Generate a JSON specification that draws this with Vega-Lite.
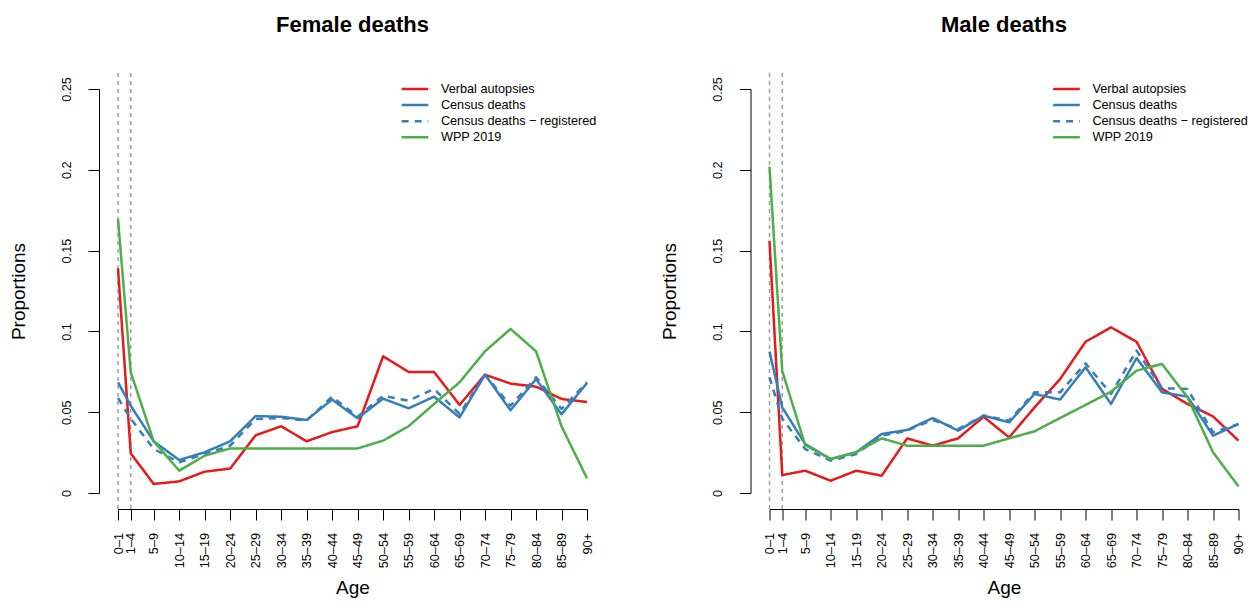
{
  "$schema": "https://vega.github.io/schema/vega-lite/v6.json",
  "padding": {"left": 9, "top": 14, "right": 0, "bottom": 0},
  "background": "white",
  "config": {
    "font": "Liberation Sans",
    "view": {"stroke": null},
    "title": {"fontSize": 22, "fontWeight": "bold", "color": "black", "anchor": "middle", "frame": "group", "baseline": "alphabetic", "offset": 34.2},
    "axis": {"grid": false, "domainColor": "black", "tickColor": "black", "labelColor": "black", "titleColor": "black", "labelFontSize": 12.7, "titleFontSize": 19, "titleFontWeight": "normal", "tickSize": 11, "domainWidth": 1, "tickWidth": 1, "labelOverlap": false, "labelFlush": false},
    "legend": {"orient": "none", "legendX": 289, "legendY": -8.1, "padding": 0, "symbolType": "M-2,0H2", "symbolSize": 178, "symbolStrokeWidth": 2.5, "labelFontSize": 12.7, "labelColor": "black", "labelOffset": 17.9, "rowPadding": 1.15, "labelLimit": 300}
  },
  "datasets": {
    "deaths": [
      {"sex":"Female","mid":0.5,"Verbal autopsies":0.139,"Census deaths":0.0685,"Census deaths − registered":0.0588,"WPP 2019":0.1696},
      {"sex":"Female","mid":3,"Verbal autopsies":0.0245,"Census deaths":0.054,"Census deaths − registered":0.046,"WPP 2019":0.0747},
      {"sex":"Female","mid":7.5,"Verbal autopsies":0.0056,"Census deaths":0.032,"Census deaths − registered":0.0272,"WPP 2019":0.032},
      {"sex":"Female","mid":12.5,"Verbal autopsies":0.0072,"Census deaths":0.0204,"Census deaths − registered":0.019,"WPP 2019":0.0138},
      {"sex":"Female","mid":17.5,"Verbal autopsies":0.0132,"Census deaths":0.0252,"Census deaths − registered":0.0241,"WPP 2019":0.0231},
      {"sex":"Female","mid":22.5,"Verbal autopsies":0.0151,"Census deaths":0.032,"Census deaths − registered":0.0293,"WPP 2019":0.0276},
      {"sex":"Female","mid":27.5,"Verbal autopsies":0.0357,"Census deaths":0.0476,"Census deaths − registered":0.0458,"WPP 2019":0.0276},
      {"sex":"Female","mid":32.5,"Verbal autopsies":0.0413,"Census deaths":0.0472,"Census deaths − registered":0.0464,"WPP 2019":0.0276},
      {"sex":"Female","mid":37.5,"Verbal autopsies":0.032,"Census deaths":0.0452,"Census deaths − registered":0.0448,"WPP 2019":0.0276},
      {"sex":"Female","mid":42.5,"Verbal autopsies":0.0377,"Census deaths":0.0578,"Census deaths − registered":0.0596,"WPP 2019":0.0276},
      {"sex":"Female","mid":47.5,"Verbal autopsies":0.0413,"Census deaths":0.0462,"Census deaths − registered":0.0472,"WPP 2019":0.0276},
      {"sex":"Female","mid":52.5,"Verbal autopsies":0.0846,"Census deaths":0.0584,"Census deaths − registered":0.0602,"WPP 2019":0.0324},
      {"sex":"Female","mid":57.5,"Verbal autopsies":0.0749,"Census deaths":0.0524,"Census deaths − registered":0.0571,"WPP 2019":0.0413},
      {"sex":"Female","mid":62.5,"Verbal autopsies":0.0749,"Census deaths":0.0596,"Census deaths − registered":0.0644,"WPP 2019":0.0551},
      {"sex":"Female","mid":67.5,"Verbal autopsies":0.0545,"Census deaths":0.0468,"Census deaths − registered":0.0489,"WPP 2019":0.0685},
      {"sex":"Female","mid":72.5,"Verbal autopsies":0.0732,"Census deaths":0.0732,"Census deaths − registered":0.0732,"WPP 2019":0.0877},
      {"sex":"Female","mid":77.5,"Verbal autopsies":0.0677,"Census deaths":0.0512,"Census deaths − registered":0.054,"WPP 2019":0.1015},
      {"sex":"Female","mid":82.5,"Verbal autopsies":0.0658,"Census deaths":0.0705,"Census deaths − registered":0.0716,"WPP 2019":0.0877},
      {"sex":"Female","mid":87.5,"Verbal autopsies":0.0582,"Census deaths":0.0487,"Census deaths − registered":0.052,"WPP 2019":0.0413},
      {"sex":"Female","mid":92.5,"Verbal autopsies":0.0563,"Census deaths":0.0681,"Census deaths − registered":0.0685,"WPP 2019":0.0091},
      {"sex":"Male","mid":0.5,"Verbal autopsies":0.1561,"Census deaths":0.0875,"Census deaths − registered":0.0716,"WPP 2019":0.2019},
      {"sex":"Male","mid":3,"Verbal autopsies":0.0111,"Census deaths":0.053,"Census deaths − registered":0.046,"WPP 2019":0.0755},
      {"sex":"Male","mid":7.5,"Verbal autopsies":0.0138,"Census deaths":0.0303,"Census deaths − registered":0.0272,"WPP 2019":0.0297},
      {"sex":"Male","mid":12.5,"Verbal autopsies":0.0076,"Census deaths":0.021,"Census deaths − registered":0.02,"WPP 2019":0.021},
      {"sex":"Male","mid":17.5,"Verbal autopsies":0.0138,"Census deaths":0.0252,"Census deaths − registered":0.0241,"WPP 2019":0.0252},
      {"sex":"Male","mid":22.5,"Verbal autopsies":0.0107,"Census deaths":0.0365,"Census deaths − registered":0.0355,"WPP 2019":0.0338},
      {"sex":"Male","mid":27.5,"Verbal autopsies":0.0338,"Census deaths":0.039,"Census deaths − registered":0.0386,"WPP 2019":0.0293},
      {"sex":"Male","mid":32.5,"Verbal autopsies":0.0293,"Census deaths":0.0464,"Census deaths − registered":0.0452,"WPP 2019":0.0293},
      {"sex":"Male","mid":37.5,"Verbal autopsies":0.0338,"Census deaths":0.0386,"Census deaths − registered":0.0396,"WPP 2019":0.0293},
      {"sex":"Male","mid":42.5,"Verbal autopsies":0.0472,"Census deaths":0.0479,"Census deaths − registered":0.0479,"WPP 2019":0.0293},
      {"sex":"Male","mid":47.5,"Verbal autopsies":0.0344,"Census deaths":0.0437,"Census deaths − registered":0.0448,"WPP 2019":0.0338},
      {"sex":"Male","mid":52.5,"Verbal autopsies":0.053,"Census deaths":0.0613,"Census deaths − registered":0.0623,"WPP 2019":0.0382},
      {"sex":"Male","mid":57.5,"Verbal autopsies":0.0705,"Census deaths":0.0578,"Census deaths − registered":0.0623,"WPP 2019":0.0464},
      {"sex":"Male","mid":62.5,"Verbal autopsies":0.0936,"Census deaths":0.0778,"Census deaths − registered":0.0802,"WPP 2019":0.0545},
      {"sex":"Male","mid":67.5,"Verbal autopsies":0.1025,"Census deaths":0.0551,"Census deaths − registered":0.0613,"WPP 2019":0.0627},
      {"sex":"Male","mid":72.5,"Verbal autopsies":0.0936,"Census deaths":0.0835,"Census deaths − registered":0.0881,"WPP 2019":0.0757},
      {"sex":"Male","mid":77.5,"Verbal autopsies":0.0644,"Census deaths":0.0623,"Census deaths − registered":0.0648,"WPP 2019":0.0798},
      {"sex":"Male","mid":82.5,"Verbal autopsies":0.0551,"Census deaths":0.0596,"Census deaths − registered":0.0644,"WPP 2019":0.0592},
      {"sex":"Male","mid":87.5,"Verbal autopsies":0.0474,"Census deaths":0.0355,"Census deaths − registered":0.0375,"WPP 2019":0.0252},
      {"sex":"Male","mid":92.5,"Verbal autopsies":0.0324,"Census deaths":0.0427,"Census deaths − registered":0.0427,"WPP 2019":0.0041}
    ],
    "vlines": [{"mid": 0.5, "lo": -0.0099, "hi": 0.2603}, {"mid": 3, "lo": -0.0099, "hi": 0.2603}]
  },
  "spacing": 63.5,
  "resolve": {"scale": {"color": "independent", "strokeDash": "independent"}, "legend": {"color": "independent", "strokeDash": "independent"}},
  "hconcat": [
    {
      "title": {"text": "Female deaths"},
      "width": 469, "height": 404,
      "layer": [
        {
          "data": {"name": "vlines"},
          "mark": {"type": "rule", "color": "#9a9a9a", "strokeDash": [4, 4], "strokeWidth": 1.4},
          "encoding": {
            "x": {"field": "mid", "type": "quantitative", "scale": {"domain": [0.5, 92.5], "zero": false, "nice": false},
                  "axis": {"title": "Age", "values": [0.5, 3, 7.5, 12.5, 17.5, 22.5, 27.5, 32.5, 37.5, 42.5, 47.5, 52.5, 57.5, 62.5, 67.5, 72.5, 77.5, 82.5, 87.5, 92.5],
                           "labelExpr": "datum.value == 0.5 ? '0–1' : datum.value == 3 ? '1–4' : datum.value > 90 ? '90+' : (datum.value - 2.5) + '–' + (datum.value + 1.5)",
                           "labelOverlap": false, "labelSeparation": -8, "labelFlush": false, "labelBound": false,
                           "labelAngle": -90, "labelAlign": "right", "labelBaseline": "middle", "labelPadding": 12.5, "offset": 16, "titlePadding": 11}},
            "y": {"field": "lo", "type": "quantitative", "scale": {"domain": [0, 0.25], "zero": false, "nice": false},
                  "axis": {"title": "Proportions", "values": [0, 0.05, 0.1, 0.15, 0.2, 0.25], "format": "~g", "labelOverlap": false, "labelAngle": -90, "labelAlign": "center", "labelBaseline": "bottom", "labelPadding": 15, "offset": 19, "titlePadding": 32}},
            "y2": {"field": "hi"}
          }
        },
        {
          "data": {"name": "deaths"},
          "transform": [{"filter": "datum.sex == 'Female'"}, {"fold": ["Verbal autopsies", "Census deaths", "Census deaths − registered", "WPP 2019"], "as": ["series", "value"]}],
          "mark": {"type": "line", "strokeWidth": 2.5, "strokeJoin": "round"},
          "encoding": {
            "x": {"field": "mid", "type": "quantitative", "scale": {"domain": [0.5, 92.5], "zero": false, "nice": false},
                  "axis": {"title": "Age", "values": [0.5, 3, 7.5, 12.5, 17.5, 22.5, 27.5, 32.5, 37.5, 42.5, 47.5, 52.5, 57.5, 62.5, 67.5, 72.5, 77.5, 82.5, 87.5, 92.5],
                           "labelExpr": "datum.value == 0.5 ? '0–1' : datum.value == 3 ? '1–4' : datum.value > 90 ? '90+' : (datum.value - 2.5) + '–' + (datum.value + 1.5)",
                           "labelOverlap": false, "labelSeparation": -8, "labelFlush": false, "labelBound": false,
                           "labelAngle": -90, "labelAlign": "right", "labelBaseline": "middle", "labelPadding": 12.5, "offset": 16, "titlePadding": 11}},
            "y": {"field": "value", "type": "quantitative", "scale": {"domain": [0, 0.25], "zero": false, "nice": false},
                  "axis": {"title": "Proportions", "values": [0, 0.05, 0.1, 0.15, 0.2, 0.25], "format": "~g", "labelOverlap": false, "labelAngle": -90, "labelAlign": "center", "labelBaseline": "bottom", "labelPadding": 15, "offset": 19, "titlePadding": 32}},
            "color": {"field": "series", "type": "nominal", "scale": {"domain": ["Verbal autopsies", "Census deaths", "Census deaths − registered", "WPP 2019"], "range": ["#E41A1C", "#377EB8", "#377EB8", "#4DAF4A"]}, "legend": {"title": null}},
            "strokeDash": {"field": "series", "type": "nominal", "scale": {"domain": ["Verbal autopsies", "Census deaths", "Census deaths − registered", "WPP 2019"], "range": [[1, 0], [1, 0], [7, 6], [1, 0]]}, "legend": {"title": null}}
          }
        }
      ]
    },
    {
      "title": {"text": "Male deaths"},
      "width": 469, "height": 404,
      "layer": [
        {
          "data": {"name": "vlines"},
          "mark": {"type": "rule", "color": "#9a9a9a", "strokeDash": [4, 4], "strokeWidth": 1.4},
          "encoding": {
            "x": {"field": "mid", "type": "quantitative", "scale": {"domain": [0.5, 92.5], "zero": false, "nice": false},
                  "axis": {"title": "Age", "values": [0.5, 3, 7.5, 12.5, 17.5, 22.5, 27.5, 32.5, 37.5, 42.5, 47.5, 52.5, 57.5, 62.5, 67.5, 72.5, 77.5, 82.5, 87.5, 92.5],
                           "labelExpr": "datum.value == 0.5 ? '0–1' : datum.value == 3 ? '1–4' : datum.value > 90 ? '90+' : (datum.value - 2.5) + '–' + (datum.value + 1.5)",
                           "labelOverlap": false, "labelSeparation": -8, "labelFlush": false, "labelBound": false,
                           "labelAngle": -90, "labelAlign": "right", "labelBaseline": "middle", "labelPadding": 12.5, "offset": 16, "titlePadding": 11}},
            "y": {"field": "lo", "type": "quantitative", "scale": {"domain": [0, 0.25], "zero": false, "nice": false},
                  "axis": {"title": "Proportions", "values": [0, 0.05, 0.1, 0.15, 0.2, 0.25], "format": "~g", "labelOverlap": false, "labelAngle": -90, "labelAlign": "center", "labelBaseline": "bottom", "labelPadding": 15, "offset": 19, "titlePadding": 32}},
            "y2": {"field": "hi"}
          }
        },
        {
          "data": {"name": "deaths"},
          "transform": [{"filter": "datum.sex == 'Male'"}, {"fold": ["Verbal autopsies", "Census deaths", "Census deaths − registered", "WPP 2019"], "as": ["series", "value"]}],
          "mark": {"type": "line", "strokeWidth": 2.5, "strokeJoin": "round"},
          "encoding": {
            "x": {"field": "mid", "type": "quantitative", "scale": {"domain": [0.5, 92.5], "zero": false, "nice": false},
                  "axis": {"title": "Age", "values": [0.5, 3, 7.5, 12.5, 17.5, 22.5, 27.5, 32.5, 37.5, 42.5, 47.5, 52.5, 57.5, 62.5, 67.5, 72.5, 77.5, 82.5, 87.5, 92.5],
                           "labelExpr": "datum.value == 0.5 ? '0–1' : datum.value == 3 ? '1–4' : datum.value > 90 ? '90+' : (datum.value - 2.5) + '–' + (datum.value + 1.5)",
                           "labelOverlap": false, "labelSeparation": -8, "labelFlush": false, "labelBound": false,
                           "labelAngle": -90, "labelAlign": "right", "labelBaseline": "middle", "labelPadding": 12.5, "offset": 16, "titlePadding": 11}},
            "y": {"field": "value", "type": "quantitative", "scale": {"domain": [0, 0.25], "zero": false, "nice": false},
                  "axis": {"title": "Proportions", "values": [0, 0.05, 0.1, 0.15, 0.2, 0.25], "format": "~g", "labelOverlap": false, "labelAngle": -90, "labelAlign": "center", "labelBaseline": "bottom", "labelPadding": 15, "offset": 19, "titlePadding": 32}},
            "color": {"field": "series", "type": "nominal", "scale": {"domain": ["Verbal autopsies", "Census deaths", "Census deaths − registered", "WPP 2019"], "range": ["#E41A1C", "#377EB8", "#377EB8", "#4DAF4A"]}, "legend": {"title": null}},
            "strokeDash": {"field": "series", "type": "nominal", "scale": {"domain": ["Verbal autopsies", "Census deaths", "Census deaths − registered", "WPP 2019"], "range": [[1, 0], [1, 0], [7, 6], [1, 0]]}, "legend": {"title": null}}
          }
        }
      ]
    }
  ]
}
